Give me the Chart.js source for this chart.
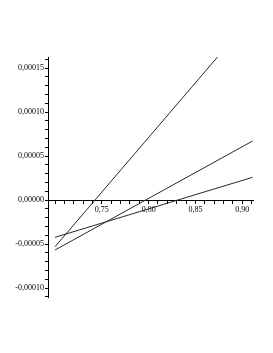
<!DOCTYPE html>
<html>
<head>
<meta charset="utf-8">
<script src="https://cdn.jsdelivr.net/npm/chart.js@4"></script>
<style>
html,body{margin:0;padding:0;background:#fff;}
#wrap{position:relative;width:273px;height:353px;}
</style>
</head>
<body>
<div id="wrap"><canvas id="c" width="273" height="353"></canvas></div>
<script>
// Data (x in parameter units, y values)
const steepX = [0.70, 0.8745];
const steepY = [-0.0000531, 0.0001636];
const middleX = [0.70, 0.911];
const middleY = [-0.0000568, 0.0000670];
const flatX = [0.70, 0.911];
const flatY = [-0.0000424, 0.0000258];

// Axis tick labels
const xTickLabels = [0.75, 0.80, 0.85, 0.90];
const yTickLabels = [-0.00010, -0.00005, 0.00000, 0.00005, 0.00010, 0.00015];

const xMin = 0.6925, xMax = 0.9115;
const yMin = -0.0001102, yMax = 0.0001625;

function pts(xs, ys){ return xs.map((x,i)=>({x:x, y:ys[i]})); }
function near(v, list){ return list.find(t => Math.abs(t - v) < 1e-9); }

const lineStyle = {showLine:true, pointRadius:0, borderColor:'#2a2a2a', borderWidth:1, fill:false, tension:0};
const font = {family:'"Liberation Serif", "DejaVu Serif", serif', size:8};

new Chart(document.getElementById('c'), {
  type:'scatter',
  data:{
    datasets:[
      Object.assign({data:pts(steepX, steepY)}, lineStyle),
      Object.assign({data:pts(middleX, middleY)}, lineStyle),
      Object.assign({data:pts(flatX, flatY)}, lineStyle)
    ]
  },
  options:{
    responsive:false,
    animation:false,
    devicePixelRatio:1,
    layout:{padding:{left:0, right:20, top:57, bottom:56}},
    plugins:{legend:{display:false}, tooltip:{enabled:false}},
    scales:{
      x:{
        type:'linear',
        min:xMin, max:xMax,
        position:{y:0},
        border:{display:true, color:'#000', width:1},
        grid:{display:true, drawOnChartArea:false, drawTicks:true, tickLength:3, tickColor:'#000', tickWidth:1},
        ticks:{
          stepSize:0.01, autoSkip:false, includeBounds:false, maxRotation:0, padding:2,
          color:'#000', font:font,
          callback:function(v){ const t = near(v, xTickLabels); return t===undefined ? '' : t.toFixed(2).replace('.', ','); }
        }
      },
      y:{
        type:'linear',
        min:yMin, max:yMax,
        position:'left',
        afterFit:function(s){ s.width = 48; },
        border:{display:true, color:'#000', width:1},
        grid:{display:true, drawOnChartArea:false, drawTicks:true, tickLength:3, tickColor:'#000', tickWidth:1},
        ticks:{
          stepSize:0.00001, autoSkip:false, includeBounds:false, padding:1,
          color:'#000', font:font,
          callback:function(v){ const t = near(v, yTickLabels); return t===undefined ? '' : t.toFixed(5).replace('.', ','); }
        }
      }
    }
  }
});
</script>
</body>
</html>
